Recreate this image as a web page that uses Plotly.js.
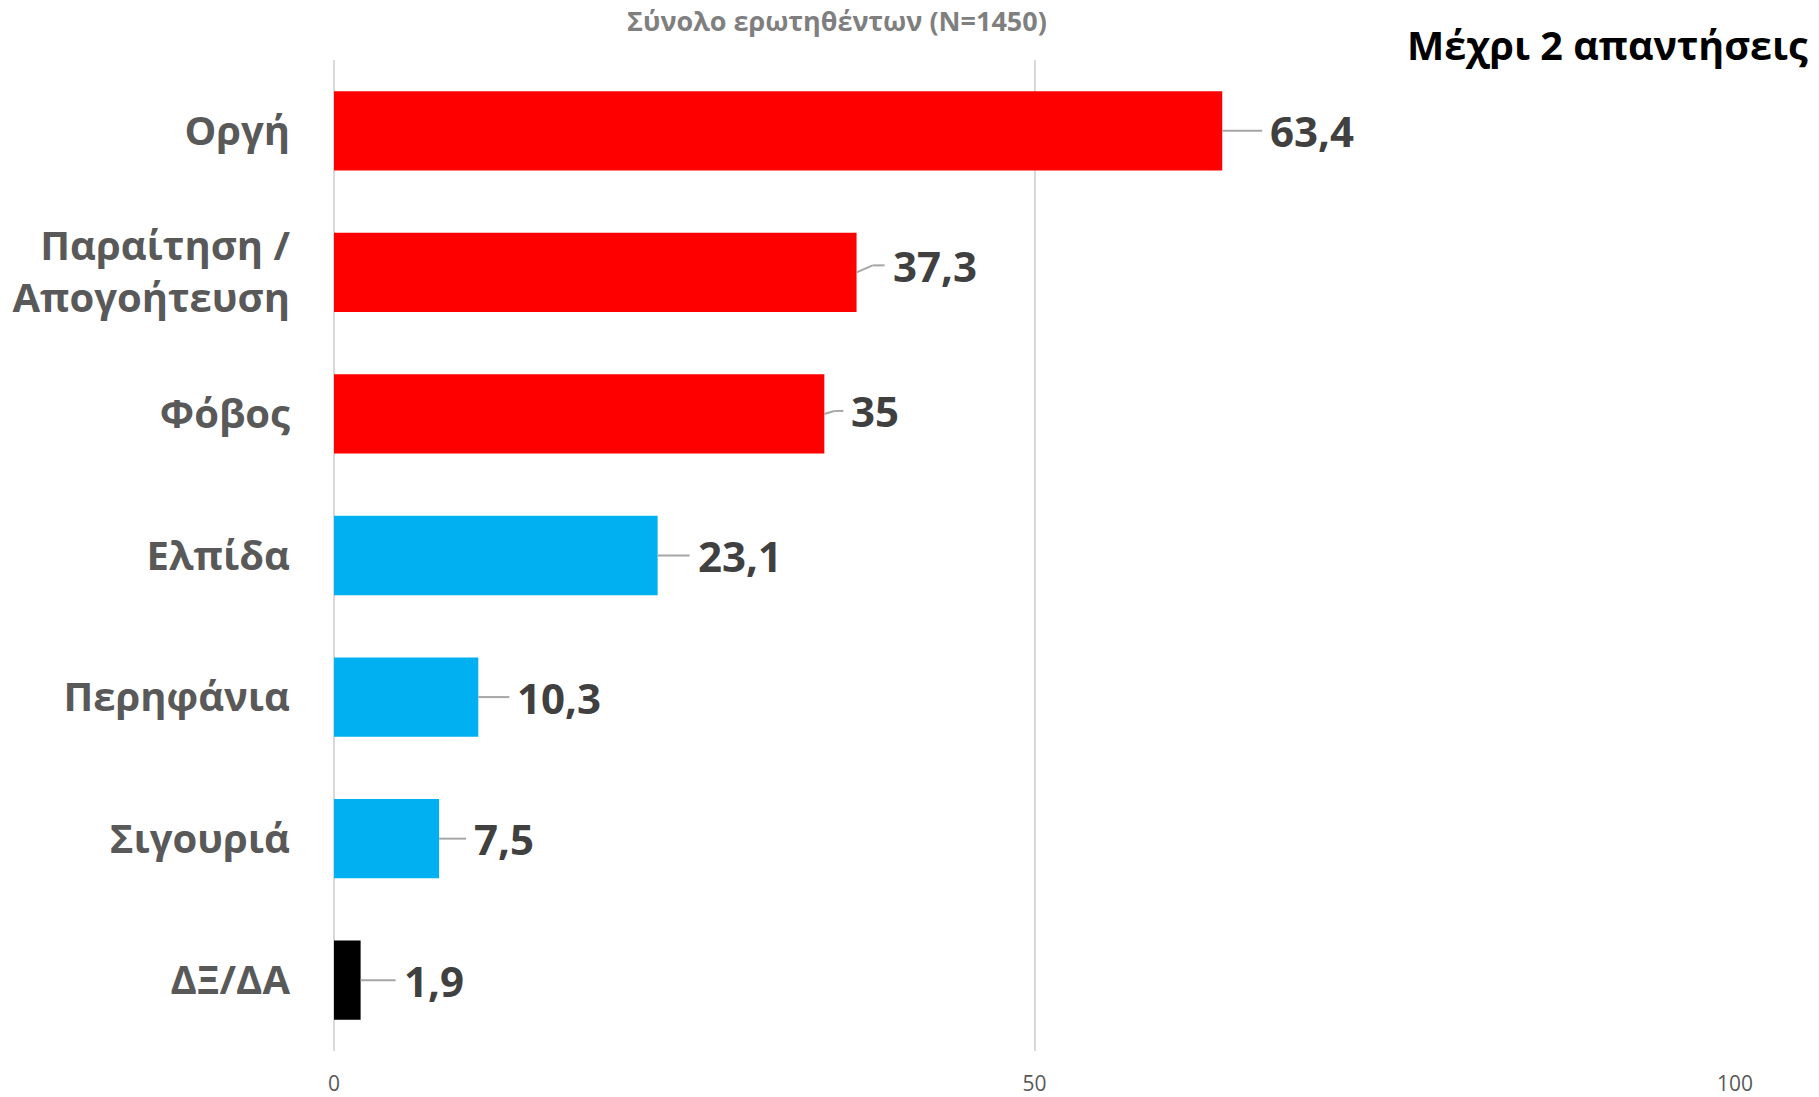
<!DOCTYPE html>
<html>
<head>
<meta charset="utf-8">
<script src="https://cdn.plot.ly/plotly-3.0.1.min.js"></script>
<style>html,body{margin:0;padding:0;background:#fff;}#chart{width:1819px;height:1097px;}</style>
</head>
<body>
<div id="chart"></div>
<script>
// ---- data ----
const categories = ["Οργή", "Παραίτηση /<br>Απογοήτευση", "Φόβος", "Ελπίδα", "Περηφάνια", "Σιγουριά", "ΔΞ/ΔΑ"];
const values = [63.4, 37.3, 35, 23.1, 10.3, 7.5, 1.9];
const valueLabels = ["63,4", "37,3", "35", "23,1", "10,3", "7,5", "1,9"];
const xTicks = [0, 50, 100];
const xTickLabels = ["0", "50", "100"];

// ---- styles (pixel offsets of the leader lines / labels) ----
const barColors = ["#FF0000", "#FF0000", "#FF0000", "#00B0F0", "#00B0F0", "#00B0F0", "#000000"];
const leaderLen = [40, 28, 19, 32, 31, 27, 35];
const leaderBend = [0, 16, 10, 0, 0, 0, 0];
const leaderRise = [0, 7, 3, 0, 0, 0, 0];
const FONT = "Open Sans, sans-serif";
const LEADER = { color: "#A6A6A6", width: 2 };

const trace = {
  type: "bar",
  orientation: "h",
  x: values,
  y: categories,
  marker: { color: barColors },
  hoverinfo: "none"
};

const shapes = [];
values.forEach((v, i) => {
  const base = {
    type: "line", xref: "x", yref: "y",
    xsizemode: "pixel", ysizemode: "pixel",
    xanchor: v, yanchor: categories[i],
    line: LEADER
  };
  if (leaderBend[i] > 0) {
    shapes.push(Object.assign({}, base, { x0: 0, x1: leaderBend[i], y0: 0, y1: leaderRise[i] }));
    shapes.push(Object.assign({}, base, { x0: leaderBend[i], x1: leaderLen[i], y0: leaderRise[i], y1: leaderRise[i] }));
  } else {
    shapes.push(Object.assign({}, base, { x0: 0, x1: leaderLen[i], y0: 0, y1: 0 }));
  }
});

const annotations = values.map((v, i) => ({
  x: v, y: categories[i], xref: "x", yref: "y",
  text: valueLabels[i],
  showarrow: false,
  xanchor: "left", yanchor: "middle",
  xshift: leaderLen[i] + 6,
  yshift: leaderRise[i],
  font: { family: FONT, size: 42, color: "#404040", weight: "bold" }
}));

annotations.push({
  xref: "paper", yref: "paper",
  x: 0.359, y: 1.040,
  text: "Σύνολο ερωτηθέντων (N=1450)",
  showarrow: false, xanchor: "center", yanchor: "middle",
  font: { family: FONT, size: 27, color: "#7F7F7F", weight: "bold" }
});
annotations.push({
  xref: "paper", yref: "paper",
  x: 1.0535, y: 1.015,
  text: "Μέχρι 2 απαντήσεις",
  showarrow: false, xanchor: "right", yanchor: "middle",
  font: { family: FONT, size: 39.5, color: "#000000", weight: "bold" }
});

const layout = {
  width: 1819, height: 1097,
  margin: { l: 334, r: 84, t: 60, b: 46 },
  paper_bgcolor: "#FFFFFF", plot_bgcolor: "#FFFFFF",
  showlegend: false,
  bargap: 0.44,
  xaxis: {
    range: [0, 100],
    tickvals: xTicks, ticktext: xTickLabels,
    showgrid: true, gridcolor: "#D9D9D9", gridwidth: 2,
    zeroline: true, zerolinecolor: "#D9D9D9", zerolinewidth: 2,
    showline: false, ticks: "",
    ticklabelstandoff: 18,
    tickfont: { family: FONT, size: 21, color: "#595959" },
    fixedrange: true
  },
  yaxis: {
    type: "category",
    autorange: false, range: [6.5, -0.5],
    showgrid: false, zeroline: false, showline: false, ticks: "",
    ticklabelstandoff: 43,
    tickfont: { family: FONT, size: 40, color: "#595959", weight: "bold" },
    fixedrange: true
  },
  shapes: shapes,
  annotations: annotations,
  font: { family: FONT }
};

Plotly.newPlot("chart", [trace], layout, { displayModeBar: false, staticPlot: true });
</script>
</body>
</html>
